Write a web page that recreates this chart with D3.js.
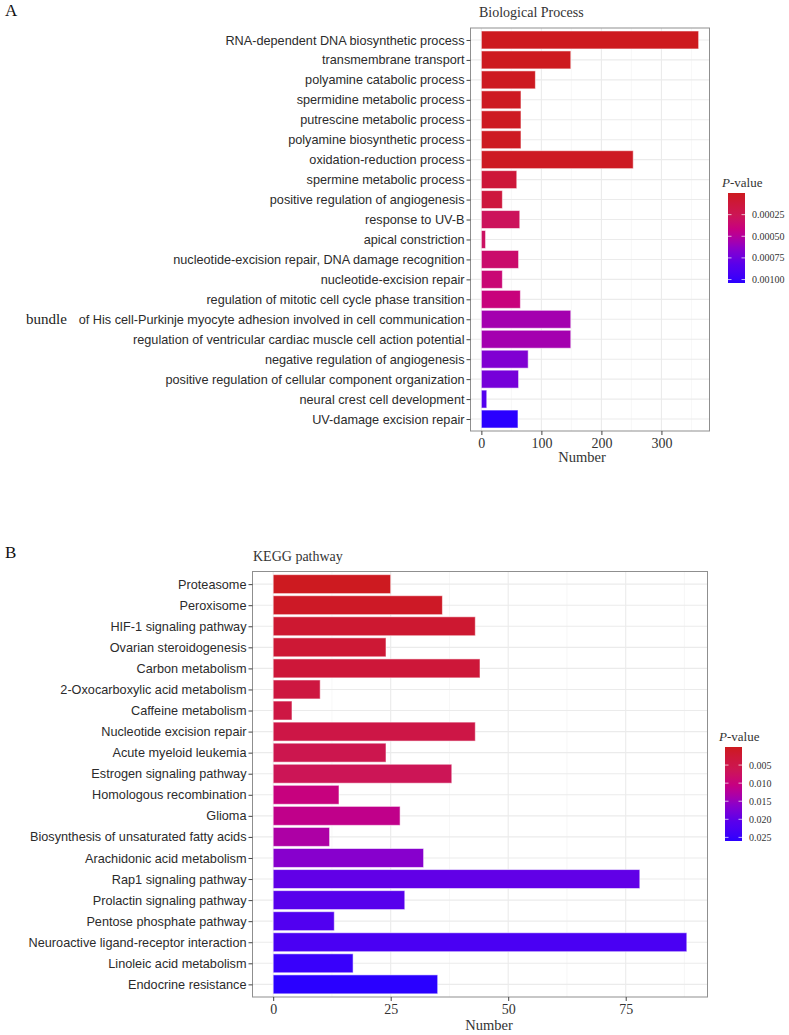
<!DOCTYPE html>
<html><head><meta charset="utf-8">
<script src="https://cdn.jsdelivr.net/npm/d3@7"></script>
<style>body{margin:0;background:#fff}</style>
</head><body>
<script>
// ---------- Data ----------
const bpTerms = ["RNA-dependent DNA biosynthetic process","transmembrane transport","polyamine catabolic process","spermidine metabolic process","putrescine metabolic process","polyamine biosynthetic process","oxidation-reduction process","spermine metabolic process","positive regulation of angiogenesis","response to UV-B","apical constriction","nucleotide-excision repair, DNA damage recognition","nucleotide-excision repair","regulation of mitotic cell cycle phase transition","of His cell-Purkinje myocyte adhesion involved in cell communication","regulation of ventricular cardiac muscle cell action potential","negative regulation of angiogenesis","positive regulation of cellular component organization","neural crest cell development","UV-damage excision repair"];
const bpCounts = [362,149,90,66,66,66,253,59,35,64,7,62,35,65,149,149,78,62,9,61];
const bpPvalues = [0.000001,0.000004,0.00001,0.000015,0.000015,0.000015,0.00002,0.00012,0.00014,0.00028,0.0003,0.00034,0.00037,0.0004,0.00056,0.00056,0.00068,0.00072,0.00086,0.00104];
const bpXTicks = [0,100,200,300];
const bpLegendTicks = [0.00025,0.00050,0.00075,0.00100];
const bpLegendLabels = ["0.00025","0.00050","0.00075","0.00100"];

const keggTerms = ["Proteasome","Peroxisome","HIF-1 signaling pathway","Ovarian steroidogenesis","Carbon metabolism","2-Oxocarboxylic acid metabolism","Caffeine metabolism","Nucleotide excision repair","Acute myeloid leukemia","Estrogen signaling pathway","Homologous recombination","Glioma","Biosynthesis of unsaturated fatty acids","Arachidonic acid metabolism","Rap1 signaling pathway","Prolactin signaling pathway","Pentose phosphate pathway","Neuroactive ligand-receptor interaction","Linoleic acid metabolism","Endocrine resistance"];
const keggCounts = [25,36,43,24,44,10,4,43,24,38,14,27,12,32,78,28,13,88,17,35];
const keggPvalues = [0.0002,0.0008,0.002,0.0025,0.003,0.0038,0.0042,0.0045,0.0055,0.0065,0.0102,0.0112,0.0132,0.0162,0.0198,0.0208,0.0218,0.0228,0.0248,0.026];
const keggXTicks = [0,25,50,75];
const keggLegendTicks = [0.005,0.010,0.015,0.020,0.025];
const keggLegendLabels = ["0.005","0.010","0.015","0.020","0.025"];

// colour ramp stops (fraction of p-value range -> colour)
const rampStops = [0, 0.25, 0.4, 0.62, 0.78, 1];
const rampColors = ["#cd1a1e", "#cc1556", "#c70080", "#8800cc", "#5a00ea", "#2a00ff"];

// ---------- Drawing ----------
const W = 789, H = 1035;
const svg = d3.select("body").append("svg").attr("width", W).attr("height", H)
  .style("font-family", "'Liberation Sans', Arial, sans-serif");
const serif = "'Liberation Serif', 'Times New Roman', serif";
const defs = svg.append("defs");

function panel(o) {
  const g = svg.append("g");
  const max = d3.max(o.counts);
  const x = d3.scaleLinear().domain([-0.05 * max, 1.05 * max]).range([o.left, o.right]);
  const y = d3.scalePoint().domain(o.terms).range([o.top, o.bottom]).padding(0.6);
  const step = y.step();
  const pExt = [0, d3.max(o.pvals)];
  const color = d3.scaleLinear().domain(rampStops.map(f => pExt[0] + f * (pExt[1] - pExt[0])))
    .range(rampColors).interpolate(d3.interpolateLab);

  // grid
  const minor = d3.range(o.minorStep, x.domain()[1], o.minorStep * 2);
  g.selectAll(".gmin").data(minor).join("line")
    .attr("x1", d => x(d)).attr("x2", d => x(d)).attr("y1", o.top).attr("y2", o.bottom)
    .attr("stroke", "#f2f2f2").attr("stroke-width", 0.6);
  g.selectAll(".gmaj").data(o.xticks).join("line")
    .attr("x1", d => x(d)).attr("x2", d => x(d)).attr("y1", o.top).attr("y2", o.bottom)
    .attr("stroke", "#ebebeb").attr("stroke-width", 1.1);
  g.selectAll(".gy").data(o.terms).join("line")
    .attr("x1", o.left).attr("x2", o.right).attr("y1", d => y(d)).attr("y2", d => y(d))
    .attr("stroke", "#ebebeb").attr("stroke-width", 1.1);

  // bars
  g.selectAll(".bar").data(o.terms).join("rect")
    .attr("x", x(0)).attr("y", d => y(d) - step * 0.45)
    .attr("width", (d, i) => x(o.counts[i]) - x(0)).attr("height", step * 0.9)
    .attr("fill", (d, i) => color(o.pvals[i]))
    .attr("stroke", "rgba(255,255,255,0.55)").attr("stroke-width", 1);

  // border
  g.append("rect").attr("x", o.left).attr("y", o.top)
    .attr("width", o.right - o.left).attr("height", o.bottom - o.top)
    .attr("fill", "none").attr("stroke", "#8f8f8f").attr("stroke-width", 1);

  // y axis
  const ya = g.append("g").attr("transform", `translate(${o.left},0)`)
    .call(d3.axisLeft(y).tickSize(4).tickPadding(2));
  ya.select(".domain").remove();
  ya.selectAll(".tick line").attr("stroke", "#444");
  ya.selectAll(".tick text").attr("fill", "#2b2b2b").style("font-size", "12.7px")
    .style("font-family", "'Liberation Sans', Arial, sans-serif");

  // x axis
  const xa = g.append("g").attr("transform", `translate(0,${o.bottom})`)
    .call(d3.axisBottom(x).tickValues(o.xticks).tickSize(4).tickPadding(3).tickFormat(d3.format("d")));
  xa.select(".domain").remove();
  xa.selectAll(".tick line").attr("stroke", "#444");
  xa.selectAll(".tick text").attr("fill", "#333").style("font-size", "14px").style("font-family", serif);

  g.append("text").attr("x", o.xTitleX).attr("y", o.xTitleY).attr("text-anchor", "middle")
    .style("font-family", serif).style("font-size", "14.5px").attr("fill", "#333").text("Number");
  g.append("text").attr("x", o.titleX).attr("y", o.titleY)
    .style("font-family", serif).style("font-size", "14px").attr("fill", "#333").text(o.title);
  g.append("text").attr("x", 5).attr("y", o.letterY)
    .style("font-family", serif).style("font-size", "17px").attr("fill", "#111").text(o.letter);

  // legend
  const lg = g.append("g");
  const t = lg.append("text").attr("x", o.legX - 6).attr("y", o.legTop - 6)
    .style("font-family", serif).style("font-size", "13px").attr("fill", "#333");
  t.append("tspan").style("font-style", "italic").text("P");
  t.append("tspan").text("-value");
  const gid = "grad" + o.letter;
  const grad = defs.append("linearGradient").attr("id", gid)
    .attr("x1", 0).attr("y1", 0).attr("x2", 0).attr("y2", 1);
  d3.range(0, 1.0001, 0.05).forEach(f => grad.append("stop").attr("offset", f)
    .attr("stop-color", color(pExt[0] + f * (pExt[1] - pExt[0]))));
  lg.append("rect").attr("x", o.legX).attr("y", o.legTop).attr("width", 17)
    .attr("height", o.legBottom - o.legTop).attr("fill", `url(#${gid})`);
  const ly = d3.scaleLinear().domain(pExt).range([o.legTop, o.legBottom]);
  o.legTicks.forEach((v, i) => {
    lg.append("line").attr("x1", o.legX).attr("x2", o.legX + 3.5).attr("y1", ly(v)).attr("y2", ly(v))
      .attr("stroke", "rgba(255,255,255,0.7)");
    lg.append("line").attr("x1", o.legX + 13.5).attr("x2", o.legX + 17).attr("y1", ly(v)).attr("y2", ly(v))
      .attr("stroke", "rgba(255,255,255,0.7)");
    lg.append("text").attr("x", o.legX + 24).attr("y", ly(v)).attr("dy", "0.35em")
      .style("font-family", serif).style("font-size", "10px").attr("fill", "#333").text(o.legLabels[i]);
  });
  return g;
}

panel({terms: bpTerms, counts: bpCounts, pvals: bpPvalues, xticks: bpXTicks, minorStep: 50,
  left: 470.5, right: 709.5, top: 28, bottom: 431,
  xTitleX: 582, xTitleY: 462, titleX: 479, titleY: 17, title: "Biological Process",
  letter: "A", letterY: 16,
  legX: 728, legTop: 193, legBottom: 283, legTicks: bpLegendTicks, legLabels: bpLegendLabels});

panel({terms: keggTerms, counts: keggCounts, pvals: keggPvalues, xticks: keggXTicks, minorStep: 12.5,
  left: 252.5, right: 707.5, top: 571.5, bottom: 997,
  xTitleX: 489, xTitleY: 1030, titleX: 253, titleY: 561, title: "KEGG pathway",
  letter: "B", letterY: 558,
  legX: 725, legTop: 747, legBottom: 841, legTicks: keggLegendTicks, legLabels: keggLegendLabels});

// "bundle" word in serif before the long label
svg.append("text").attr("x", 26).attr("y", 324)
  .style("font-family", serif).style("font-size", "15px").attr("fill", "#222").text("bundle");
</script>
</body></html>
